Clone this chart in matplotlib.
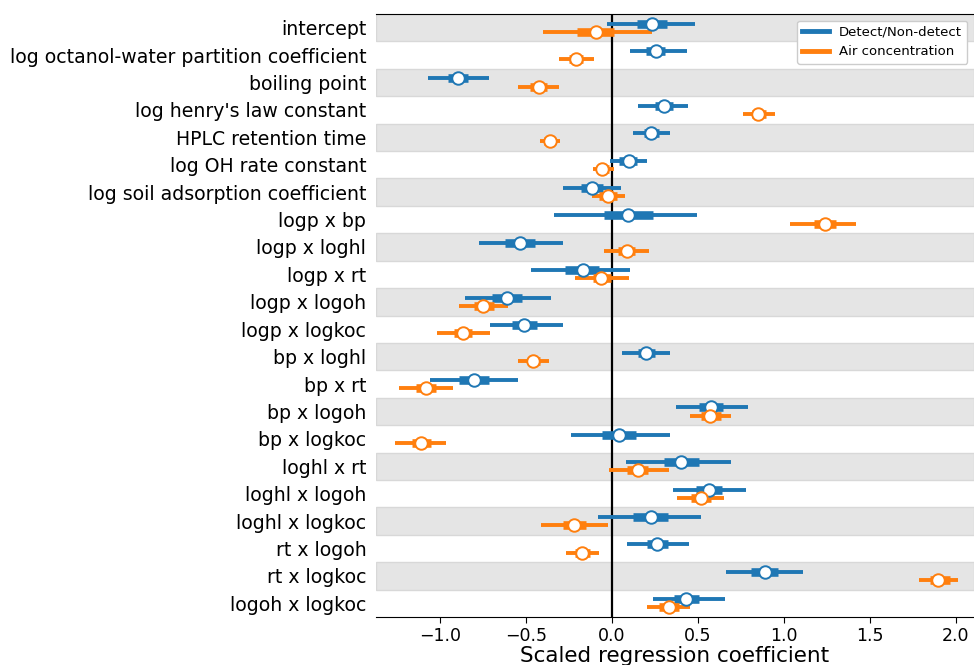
import matplotlib
matplotlib.use("Agg")
import matplotlib.pyplot as plt
from matplotlib.lines import Line2D

labels = ["intercept", "log octanol-water partition coefficient", "boiling point",
          "log henry's law constant", "HPLC retention time", "log OH rate constant",
          "log soil adsorption coefficient", "logp x bp", "logp x loghl", "logp x rt",
          "logp x logoh", "logp x logkoc", "bp x loghl", "bp x rt", "bp x logoh",
          "bp x logkoc", "loghl x rt", "loghl x logoh", "loghl x logkoc", "rt x logoh",
          "rt x logkoc", "logoh x logkoc"]

# Detect/Non-detect: mean, thick (lo, hi), thin (lo, hi)
det_mean = [0.231, 0.257, -0.896, 0.301, 0.227, 0.097, -0.118, 0.095, -0.532, -0.171,
            -0.611, -0.509, 0.197, -0.801, 0.576, 0.039, 0.403, 0.565, 0.227, 0.259,
            0.889, 0.433]
det_q_lo = [0.146, 0.20, -0.954, 0.25, 0.185, 0.042, -0.178, -0.046, -0.62, -0.273,
            -0.699, -0.583, 0.153, -0.889, 0.505, -0.056, 0.301, 0.486, 0.125, 0.204,
            0.81, 0.361]
det_q_hi = [0.319, 0.31, -0.838, 0.354, 0.273, 0.146, -0.051, 0.241, -0.447, -0.074,
            -0.525, -0.433, 0.25, -0.715, 0.648, 0.141, 0.507, 0.639, 0.326, 0.324,
            0.968, 0.505]
det_h_lo = [-0.028, 0.102, -1.069, 0.153, 0.12, -0.014, -0.287, -0.336, -0.773, -0.468,
            -0.854, -0.711, 0.06, -1.056, 0.37, -0.241, 0.083, 0.352, -0.079, 0.088,
            0.662, 0.241]
det_h_hi = [0.481, 0.435, -0.715, 0.44, 0.336, 0.206, 0.053, 0.495, -0.282, 0.106,
            -0.356, -0.282, 0.338, -0.549, 0.792, 0.336, 0.692, 0.782, 0.519, 0.449,
            1.113, 0.657]

# Air concentration
air_mean = [-0.093, -0.208, -0.426, 0.852, -0.361, -0.056, -0.021, 1.238, 0.088, -0.0625,
            -0.75, -0.868, -0.461, -1.081, 0.569, -1.109, 0.15, 0.516, -0.218, -0.174,
            1.898, 0.333]
air_q_lo = [-0.206, -0.248, -0.479, 0.817, -0.394, -0.086, -0.074, 1.176, 0.037, -0.113,
            -0.803, -0.919, -0.491, -1.139, 0.516, -1.162, 0.088, 0.458, -0.282, -0.213,
            1.847, 0.273]
air_q_hi = [0.012, -0.167, -0.375, 0.898, -0.329, -0.016, 0.03, 1.303, 0.134, -0.005,
            -0.688, -0.815, -0.421, -1.023, 0.632, -1.051, 0.211, 0.574, -0.153, -0.125,
            1.963, 0.389]
air_h_lo = [-0.403, -0.31, -0.549, 0.762, -0.421, -0.113, -0.116, 1.037, -0.049, -0.213,
            -0.891, -1.016, -0.546, -1.241, 0.454, -1.259, -0.019, 0.38, -0.41, -0.266,
            1.787, 0.201]
air_h_hi = [0.234, -0.104, -0.31, 0.949, -0.301, 0.012, 0.076, 1.421, 0.218, 0.1,
            -0.606, -0.711, -0.366, -0.924, 0.694, -0.965, 0.329, 0.653, -0.023, -0.076,
            2.014, 0.456]

series = [
    ("Detect/Non-detect", "#1f77b4", -0.15, det_mean, det_q_lo, det_q_hi, det_h_lo, det_h_hi),
    ("Air concentration", "#ff7f0e", 0.15, air_mean, air_q_lo, air_q_hi, air_h_lo, air_h_hi),
]

fig = plt.figure(figsize=(9.74, 6.65), dpi=100)
ax = fig.add_axes([376 / 974, 48 / 665, 598 / 974, 603 / 665])

n = len(labels)
for i in range(n):
    if i % 2 == 0:
        ax.axhspan(i - 0.5, i + 0.5, facecolor="#e5e5e5", edgecolor="#d8d8d8",
                   linewidth=1, zorder=0)

ax.axvline(0, color="black", linewidth=1.6, zorder=1)

for name, color, off, mean, qlo, qhi, hlo, hhi in series:
    for i in range(n):
        y = i + off
        ax.plot([hlo[i], hhi[i]], [y, y], color=color, lw=2.8, solid_capstyle="butt", zorder=2)
        ax.plot([qlo[i], qhi[i]], [y, y], color=color, lw=6.2, solid_capstyle="butt", zorder=3)
        ax.plot(mean[i], y, "o", markersize=9, markerfacecolor="white",
                markeredgecolor=color, markeredgewidth=1.4, zorder=4)

ax.set_ylim(n - 0.5, -0.5)
ax.set_xlim(-1.372, 2.105)
ax.set_yticks(range(n))
ax.set_yticklabels(labels, fontsize=13.6)
ax.tick_params(axis="y", length=0, pad=7)
ax.tick_params(axis="x", labelsize=12.5, length=4, pad=3)
ax.set_xticks([-1.0, -0.5, 0.0, 0.5, 1.0, 1.5, 2.0])
ax.set_xlabel("Scaled regression coefficient", fontsize=15.5, labelpad=1)
ax.spines["left"].set_visible(False)
ax.spines["right"].set_visible(False)

handles = [Line2D([], [], color=s[1], lw=3.5) for s in series]
ax.legend(handles, [s[0] for s in series], loc="upper right", fontsize=9.5,
          framealpha=1, bbox_to_anchor=(1.0, 1.0), borderaxespad=0.5)

fig.savefig("out.png", dpi=100)
